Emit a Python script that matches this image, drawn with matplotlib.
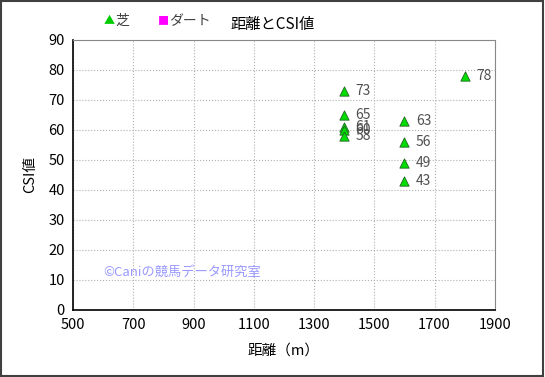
import matplotlib.pyplot as plt
from matplotlib.patches import Rectangle

plt.rcParams['font.family'] = ['Noto Sans CJK JP', 'DejaVu Sans']

# 芝 data: distance (m) and CSI value
turf_dist = [1400, 1400, 1400, 1400, 1400, 1600, 1600, 1600, 1600, 1800]
turf_csi = [73, 65, 61, 60, 58, 63, 56, 49, 43, 78]
dirt_dist = []
dirt_csi = []

xticks = [500, 700, 900, 1100, 1300, 1500, 1700, 1900]
yticks = [0, 10, 20, 30, 40, 50, 60, 70, 80, 90]

fig = plt.figure(figsize=(5.45, 3.77), dpi=100)
ax = fig.add_axes([0.134, 0.178, 0.774, 0.716])

ax.scatter(turf_dist, turf_csi, marker='^', s=45, color='#00dd00',
           edgecolors='#226622', linewidths=0.6, zorder=3)
for x, y in zip(turf_dist, turf_csi):
    ax.text(x + 38, y, str(y), fontsize=10, color='#505050', va='center', ha='left')

ax.set_xlim(500, 1900)
ax.set_ylim(0, 90)
ax.set_xticks(xticks)
ax.set_yticks(yticks)
ax.tick_params(length=0, labelsize=10.5, pad=6)
ax.grid(True, color='#b0b0b0', linestyle=':', linewidth=0.8)
for side in ['top', 'right']:
    ax.spines[side].set_color('#888888')
for side in ['left', 'bottom']:
    ax.spines[side].set_color('black')
    ax.spines[side].set_linewidth(1.2)

ax.set_xlabel('距離（m）', fontsize=10.5, labelpad=8)
ax.set_ylabel('CSI値', fontsize=10.5, labelpad=8)

ax.text(600, 12.5, '©Caniの競馬データ研究室', fontsize=9.5, color='#9999ff', va='center')

fig.text(0.5, 0.935, '距離とCSI値', fontsize=11, ha='center', va='center')
fig.text(0.19, 0.945, '▲', fontsize=8, color='#00cc00', ha='left', va='center')
fig.text(0.212, 0.945, '芝', fontsize=10, color='#404040', ha='left', va='center')
fig.text(0.29, 0.945, '■', fontsize=8, color='#ff00ff', ha='left', va='center')
fig.text(0.31, 0.945, 'ダート', fontsize=10, color='#404040', ha='left', va='center')

fig.patches.append(Rectangle((0.002, 0.003), 0.995, 0.994, transform=fig.transFigure,
                             fill=False, edgecolor='#404040', linewidth=1.5))

fig.savefig('out.png', dpi=100)
